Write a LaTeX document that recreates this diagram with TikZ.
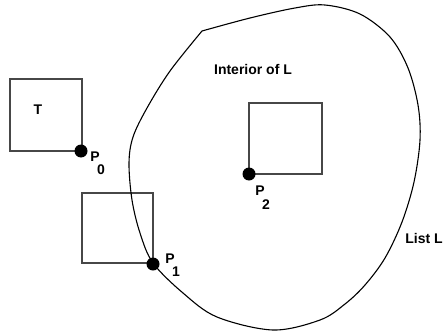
\documentclass[tikz,border=0pt]{standalone}
\usepackage{fontspec}
\setmainfont{Liberation Sans}
\begin{document}
\begin{tikzpicture}[x=1pt,y=-1pt,
  sq/.style={draw=black!72,line width=1.3pt},
  dot/.style={circle,fill=black,inner sep=0pt,minimum size=13pt},
  lbl/.style={inner sep=0pt,font=\fontsize{14}{16}\selectfont\bfseries},
  curve/.style={draw=black,line width=1.1pt}]
\useasboundingbox (0,0) rectangle (443,334);
% squares
\draw[sq] (10,79) rectangle (82,151);
\draw[sq] (82,193) rectangle (153,263);
\draw[sq] (249,103) rectangle (322,174);
% closed list L
\draw[curve] plot[smooth,tension=0.55] coordinates {
 (202,31) (250,18) (295,8) (325,5) (360,14) (390,37) (408,68) (418,105) (420,140)
 (414,182) (402,222) (385,258) (365,285) (345,304) (320,320) (273,330)
 (217,317) (183,293) (153,263) (140,233) (132,200) (129,163) (133,137)
 (147,108) (170,71) (202,31)};
% dots
\node[dot] (p0) at (81,151) {};
\node[dot] (p1) at (153,264) {};
\node[dot] (p2) at (249,174) {};
% labels
\node[lbl] (t) at (38,110) {T};
\node[lbl] (p0a) at (95,157) {P};
\node[lbl] (p0b) at (101,170) {0};
\node[lbl] (p1a) at (170,259) {P};
\node[lbl] (p1b) at (176,272) {1};
\node[lbl] (p2a) at (260,191) {P};
\node[lbl] (p2b) at (266,205) {2};
\node[lbl] (int) at (253,69) {Interior of L};
\node[lbl] (list) at (424,238) {List L};
\end{tikzpicture}
\end{document}
